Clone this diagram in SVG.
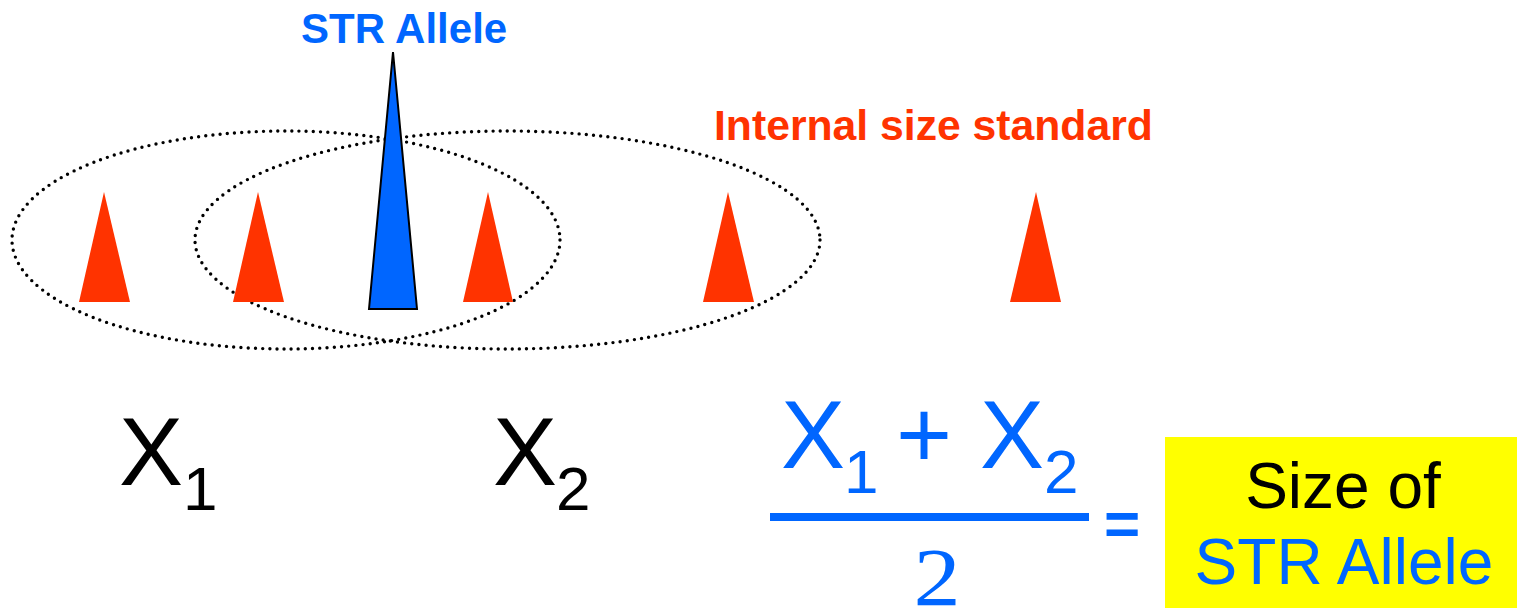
<svg xmlns="http://www.w3.org/2000/svg" width="1517" height="608" viewBox="0 0 1517 608">
<style>
.bold{font-family:"Liberation Sans",Arial,sans-serif;font-weight:bold}
.reg{font-family:"Liberation Sans",Arial,sans-serif}
.red{fill:#FF3300}
.blue{fill:#0066FF}
.win{fill:none;stroke:#000;stroke-width:3.4;stroke-dasharray:0 7.2;stroke-linecap:round}
</style>
<rect width="1517" height="608" fill="#fff"/>
<g id="windows">
<ellipse class="win" cx="286" cy="240" rx="274" ry="109"/>
<ellipse class="win" cx="507.5" cy="240" rx="312.5" ry="109"/>
</g>
<g id="size-standard-peaks" class="red">
<polygon points="79,302 104,192 130,302"/>
<polygon points="233,302 258,192 284,302"/>
<polygon points="463,302 488,192 513,302"/>
<polygon points="703,302 728,192 754,302"/>
<polygon points="1010,302 1036,192 1061,302"/>
</g>
<g id="str-peak">
<polygon points="369,309 393,52 417,309" fill="#0066FF" stroke="#000" stroke-width="2" stroke-linejoin="miter"/>
</g>
<g id="labels">
<text class="bold blue" x="301" y="43" font-size="42">STR Allele</text>
<text class="bold red" x="714" y="140" font-size="42.7">Internal size standard</text>
</g>
<g id="x1">
<text class="reg" x="119" y="485" font-size="96">X</text>
<text class="reg" x="183" y="510" font-size="62">1</text>
</g>
<g id="x2">
<text class="reg" x="493" y="485" font-size="96">X</text>
<text class="reg" x="556" y="510" font-size="62">2</text>
</g>
<g id="formula" class="blue">
<text class="reg" x="781" y="468" font-size="96">X</text>
<text class="reg" x="844" y="493" font-size="62">1</text>
<text class="reg" x="896" y="468" font-size="96">+</text>
<text class="reg" x="980" y="468" font-size="96">X</text>
<text class="reg" x="1044" y="493" font-size="62">2</text>
<rect x="770" y="513" width="319" height="8"/>
<text x="0" y="0" font-size="82" text-anchor="middle" font-family="Liberation Serif,serif" transform="translate(937,605) scale(1.15,1)">2</text>
<text class="bold" x="1122" y="545" font-size="62" text-anchor="middle">=</text>
</g>
<g id="result">
<rect x="1165" y="437" width="352" height="171" fill="#FFFF00"/>
<text class="reg" x="1343" y="508" font-size="64" text-anchor="middle">Size of</text>
<text class="reg blue" x="1344" y="584" font-size="64" text-anchor="middle">STR Allele</text>
</g>
</svg>
